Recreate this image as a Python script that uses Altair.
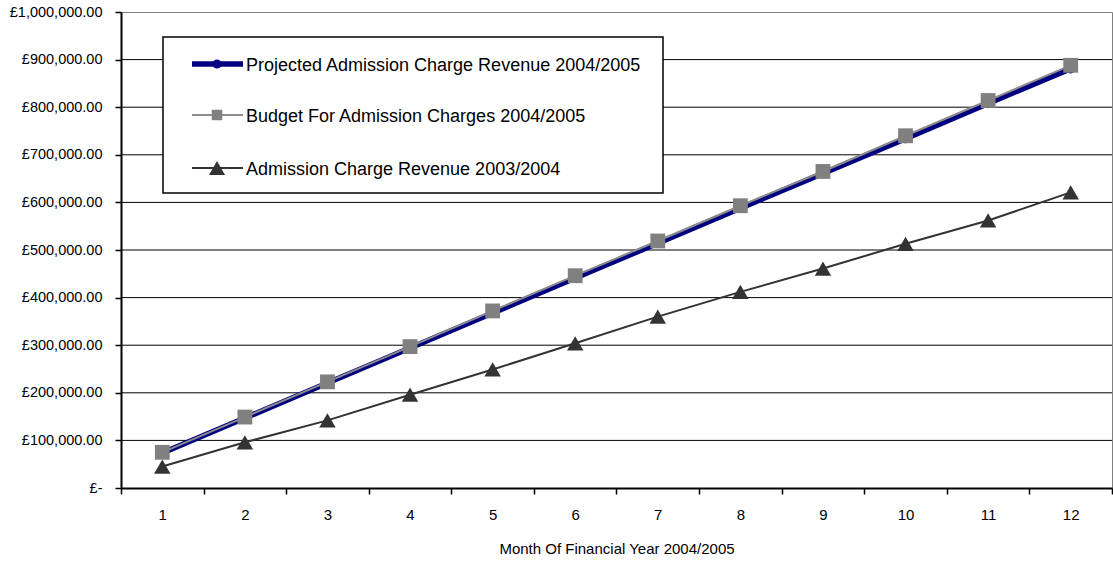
import altair as alt
import pandas as pd

months = [1, 2, 3, 4, 5, 6, 7, 8, 9, 10, 11, 12]
projected = [73500, 147000, 220500, 294000, 367500, 441000, 514500, 588000, 661000, 734000, 808000, 881000]
budget = [75000, 149000, 223000, 297000, 372000, 446000, 519000, 593000, 665000, 740000, 814000, 888000]
prior = [45000, 96000, 142000, 196000, 249000, 304000, 360000, 412000, 461000, 513000, 562000, 621000]
series_names = [
    "Projected Admission Charge Revenue 2004/2005",
    "Budget For Admission Charges 2004/2005",
    "Admission Charge Revenue 2003/2004",
]
grid_values = [100000, 200000, 300000, 400000, 500000, 600000, 700000, 800000, 900000]
y_ticks = [0, 100000, 200000, 300000, 400000, 500000, 600000, 700000, 800000, 900000, 1000000]
x_title = "Month Of Financial Year 2004/2005"

FONT = "Liberation Sans"

df = pd.DataFrame({"month": months, "projected": projected, "budget": budget, "prior": prior})
grid_df = pd.DataFrame({"g": grid_values})

x_enc = alt.X(
    "month:O",
    scale=alt.Scale(type="band", paddingInner=0, paddingOuter=0),
    axis=alt.Axis(
        title=x_title, labelAngle=0, tickBand="extent", grid=False,
        domainColor="black", domainWidth=2, tickColor="black", tickSize=6, tickWidth=1.5,
        labelFontSize=15, labelFont=FONT, labelColor="black", labelPadding=13,
        titleFontSize=15, titleFont=FONT, titleFontWeight="normal", titleColor="black", titlePadding=19,
    ),
)


def y_enc(field):
    return alt.Y(
        field,
        scale=alt.Scale(domain=[0, 1000000], nice=False, zero=True),
        axis=alt.Axis(
            values=y_ticks, title=None, grid=False,
            labelExpr="datum.value == 0 ? '£-' : '£' + format(datum.value, ',.2f')",
            domainColor="black", domainWidth=2, tickColor="black", tickSize=6, tickWidth=1.5,
            labelFontSize=14.5, labelFont=FONT, labelColor="black", labelPadding=13,
        ),
    )


grid = alt.Chart(grid_df).mark_rule(color="black", strokeWidth=1).encode(y=y_enc("g:Q"))

base = alt.Chart(df)
proj_line = base.mark_line(color="#000080", strokeWidth=5.5).encode(x=x_enc, y=y_enc("projected:Q"))
proj_pts = base.mark_point(shape="circle", filled=True, size=90, color="#000080", opacity=1).encode(x=x_enc, y=y_enc("projected:Q"))
bud_line = base.mark_line(color="#8c8c8c", strokeWidth=2).encode(x=x_enc, y=y_enc("budget:Q"))
bud_pts = base.mark_point(shape="square", filled=True, size=220, color="#808080", opacity=1).encode(x=x_enc, y=y_enc("budget:Q"))
pri_line = base.mark_line(color="#333333", strokeWidth=2).encode(x=x_enc, y=y_enc("prior:Q"))
pri_pts = base.mark_point(shape="triangle-up", filled=True, size=270, color="#333333", opacity=1).encode(x=x_enc, y=y_enc("prior:Q"))

# Legend (custom box)
one = pd.DataFrame({"k": [0]})
legend_box = alt.Chart(one).mark_rect(fill="white", stroke="black", strokeWidth=1.5).encode(
    x=alt.value(42), x2=alt.value(542), y=alt.value(25), y2=alt.value(181)
)
legend_layers = [legend_box]
entry_y = [52, 103, 156]
line_styles = [("#000080", 5.5), ("#8c8c8c", 2), ("#333333", 2)]
marker_styles = [("circle", "#000080", 80), ("square", "#808080", 110), ("triangle-up", "#333333", 260)]
for i, name in enumerate(series_names):
    ly = entry_y[i]
    col, sw = line_styles[i]
    legend_layers.append(
        alt.Chart(one).mark_rule(color=col, strokeWidth=sw).encode(
            x=alt.value(71), x2=alt.value(122), y=alt.value(ly)
        )
    )
    shp, mcol, msz = marker_styles[i]
    legend_layers.append(
        alt.Chart(one).mark_point(shape=shp, filled=True, color=mcol, size=msz, opacity=1).encode(
            x=alt.value(96), y=alt.value(ly)
        )
    )
    legend_layers.append(
        alt.Chart(pd.DataFrame({"label": [name]})).mark_text(
            align="left", baseline="middle", font=FONT, fontSize=18, color="black"
        ).encode(x=alt.value(125), y=alt.value(ly + 2), text="label:N")
    )

chart = alt.layer(
    grid, proj_line, proj_pts, bud_line, bud_pts, pri_line, pri_pts, *legend_layers
).properties(
    width=991, height=476,
    padding={"left": 121, "top": 12, "right": 1, "bottom": 75},
    autosize=alt.AutoSizeParams(type="none"),
    background="white",
).configure_view(stroke="#808080", strokeWidth=1)

chart.save("out.html", embed_options={"renderer": "svg", "actions": False})
